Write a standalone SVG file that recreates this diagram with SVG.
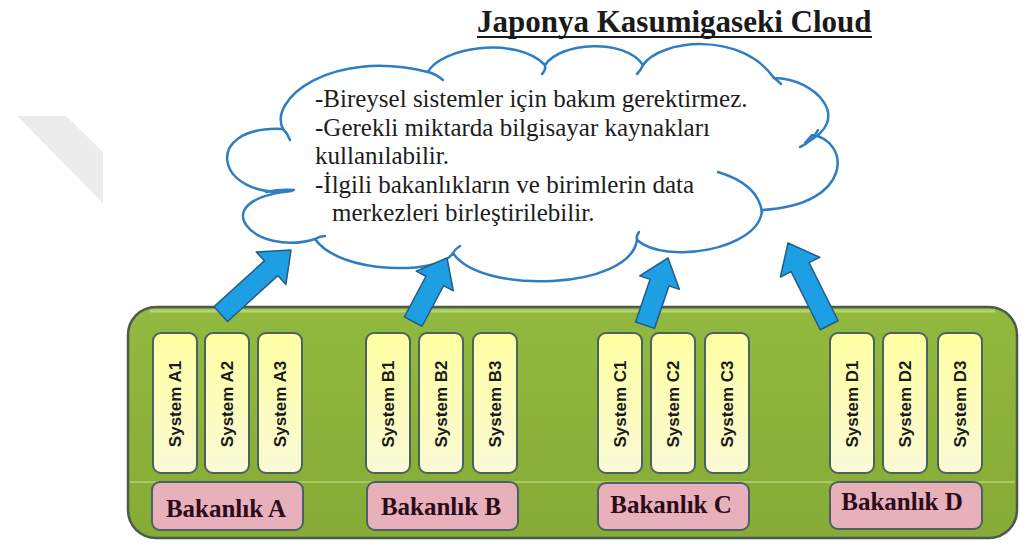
<svg xmlns="http://www.w3.org/2000/svg" width="1021" height="545" viewBox="0 0 1021 545">
<defs>
<style>
.title{font-family:"Liberation Serif","Times New Roman",serif;font-weight:bold;font-size:31px;fill:#1a1a1a}
.ctext{font-family:"Liberation Serif","Times New Roman",serif;font-size:25px;fill:#1c1c1c}
.cloud{fill:#ffffff;stroke:#2f7dc2;stroke-width:2.5;stroke-linejoin:round}
.hook{fill:none;stroke:#2f7dc2;stroke-width:2.5;stroke-linecap:round}
.sys{fill:url(#gy);stroke:#4a6262;stroke-width:2}
.sysT{font-family:"Liberation Sans",Arial,sans-serif;font-weight:bold;font-size:17px;fill:#1a1a1a}
.bak{fill:#e8b0bb;stroke:#4a6262;stroke-width:2}
.bakT{font-family:"Liberation Serif","Times New Roman",serif;font-weight:bold;font-size:25px;fill:#2b0c18}
.arrow{fill:#1e9fe4;stroke:#255b86;stroke-width:1.5;stroke-linejoin:round}
</style>
<linearGradient id="gy" x1="0" y1="0" x2="0" y2="1">
<stop offset="0" stop-color="#ffffa2"/>
<stop offset="1" stop-color="#fafad6"/>
</linearGradient>
<linearGradient id="gg" x1="0" y1="0" x2="0" y2="1">
<stop offset="0" stop-color="#92b93f"/>
<stop offset="1" stop-color="#86ab36"/>
</linearGradient>
</defs>

<rect width="1021" height="545" fill="#ffffff"/>
<polygon points="17,116 66,116 103,152 103,203" fill="#ececec"/>

<g id="title">
<text class="title" x="477" y="32">Japonya Kasumigaseki Cloud</text>
<line x1="477" y1="37" x2="872" y2="37" stroke="#1a1a1a" stroke-width="2"/>
</g>

<g id="cloud">
<path class="cloud" d="M283,129 C268,100 330,48 428,72 C440,48 515,35 545,65 C560,42 625,38 643,65 C660,40 740,30 774,78 C815,78 855,120 805,143 L812,135 C850,140 855,205 762,210 C760,250 665,265 637,240 C630,290 480,295 453,253 C440,275 340,275 315,239 C255,258 200,200 292,191 C215,200 200,125 283,129 Z"/>
<path class="hook" d="M283,129 Q288,134 290,140"/>
<path class="hook" d="M428,72 Q436,74 443,80"/>
<path class="hook" d="M545,65 Q546,70 542,74"/>
<path class="hook" d="M643,65 Q641,70 637,74"/>
<path class="hook" d="M774,78 Q777,80 781,84"/>
<path class="hook" d="M800,147 Q812,142 818,130"/>
<path class="hook" d="M718,172 Q758,184 762,212"/>
<path class="hook" d="M637,240 Q636,236 639,232"/>
<path class="hook" d="M453,253 Q455,249 460,246"/>
<path class="hook" d="M315,239 Q320,236 325,236"/>
<path class="hook" d="M266,192 Q280,189 294,190"/>
<text class="ctext" x="315" y="107">-Bireysel sistemler için bakım gerektirmez.</text>
<text class="ctext" x="315" y="136">-Gerekli miktarda bilgisayar kaynakları</text>
<text class="ctext" x="315" y="164">kullanılabilir.</text>
<text class="ctext" x="315" y="193">-İlgili bakanlıkların ve birimlerin data</text>
<text class="ctext" x="332" y="221">merkezleri birleştirilebilir.</text>
</g>

<g id="platform">
<rect x="128" y="307" width="889" height="231" rx="28" fill="url(#gg)" stroke="#4b5a4f" stroke-width="2.5"/>
<path d="M150,311 L995,311" stroke="#b3d46c" stroke-width="3" fill="none"/>
<line x1="130" y1="482" x2="1015" y2="482" stroke="#a9ca62" stroke-width="2"/>
</g>

<g id="bakanlik-a">
<rect class="sys" x="153" y="333" width="44" height="140" rx="8"/>
<rect class="sys" x="205" y="333" width="44" height="140" rx="8"/>
<rect class="sys" x="258" y="333" width="44" height="140" rx="8"/>
<text class="sysT" text-anchor="middle" transform="translate(181,404) rotate(-90)">System A1</text>
<text class="sysT" text-anchor="middle" transform="translate(233,404) rotate(-90)">System A2</text>
<text class="sysT" text-anchor="middle" transform="translate(286,404) rotate(-90)">System A3</text>
<rect class="bak" x="152" y="482" width="151" height="48" rx="8"/>
<text class="bakT" text-anchor="middle" x="226" y="517">Bakanlık A</text>
</g>

<g id="bakanlik-b">
<rect class="sys" x="366" y="333" width="44" height="140" rx="8"/>
<rect class="sys" x="419" y="333" width="44" height="140" rx="8"/>
<rect class="sys" x="473" y="333" width="44" height="140" rx="8"/>
<text class="sysT" text-anchor="middle" transform="translate(394,404) rotate(-90)">System B1</text>
<text class="sysT" text-anchor="middle" transform="translate(447,404) rotate(-90)">System B2</text>
<text class="sysT" text-anchor="middle" transform="translate(501,404) rotate(-90)">System B3</text>
<rect class="bak" x="367" y="482" width="151" height="48" rx="8"/>
<text class="bakT" text-anchor="middle" x="441" y="515">Bakanlık B</text>
</g>

<g id="bakanlik-c">
<rect class="sys" x="598" y="333" width="44" height="140" rx="8"/>
<rect class="sys" x="651" y="333" width="44" height="140" rx="8"/>
<rect class="sys" x="705" y="333" width="44" height="140" rx="8"/>
<text class="sysT" text-anchor="middle" transform="translate(626,404) rotate(-90)">System C1</text>
<text class="sysT" text-anchor="middle" transform="translate(679,404) rotate(-90)">System C2</text>
<text class="sysT" text-anchor="middle" transform="translate(733,404) rotate(-90)">System C3</text>
<rect class="bak" x="598" y="483" width="151" height="47" rx="8"/>
<text class="bakT" text-anchor="middle" x="671" y="513">Bakanlık C</text>
</g>

<g id="bakanlik-d">
<rect class="sys" x="830" y="333" width="44" height="140" rx="8"/>
<rect class="sys" x="883" y="333" width="44" height="140" rx="8"/>
<rect class="sys" x="938" y="333" width="44" height="140" rx="8"/>
<text class="sysT" text-anchor="middle" transform="translate(858,404) rotate(-90)">System D1</text>
<text class="sysT" text-anchor="middle" transform="translate(911,404) rotate(-90)">System D2</text>
<text class="sysT" text-anchor="middle" transform="translate(966,404) rotate(-90)">System D3</text>
<rect class="bak" x="830" y="482" width="152" height="47" rx="8"/>
<text class="bakT" text-anchor="middle" x="902" y="510">Bakanlık D</text>
</g>

<g id="connectors">
<path class="arrow" transform="translate(291,250) rotate(47.6)" d="M0,0 L22,27 L10,27 L10,95 L-10,95 L-10,27 L-22,27 Z"/>
<path class="arrow" transform="translate(447,258) rotate(28)" d="M0,0 L21,26 L10,26 L10,72 L-10,72 L-10,26 L-21,26 Z"/>
<path class="arrow" transform="translate(668,258) rotate(18.9)" d="M0,0 L21,26 L10,26 L10,71 L-10,71 L-10,26 L-21,26 Z"/>
<path class="arrow" transform="translate(788,243) rotate(-26.6)" d="M0,0 L22,27 L10,27 L10,92 L-10,92 L-10,27 L-22,27 Z"/>
</g>
</svg>
